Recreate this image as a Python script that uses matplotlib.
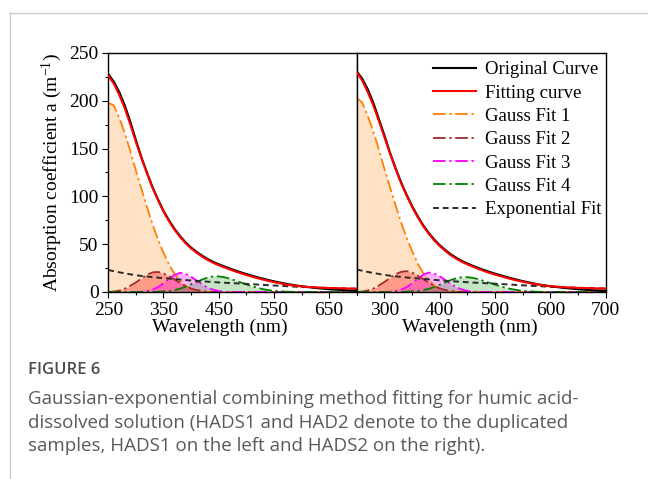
import matplotlib
matplotlib.use("Agg")
import matplotlib.pyplot as plt
from matplotlib.lines import Line2D

plt.rcParams['font.family'] = ['Liberation Serif', 'DejaVu Serif']
plt.rcParams['mathtext.default'] = 'regular'

# wavelength grid (nm)
wl = [250, 260, 270, 280, 290, 300, 310, 320, 330, 340, 350, 360, 370, 380, 390, 400,
      410, 420, 430, 440, 450, 460, 470, 480, 490, 500, 510, 520, 530, 540, 550,
      575, 600, 625, 650, 675, 700]

# HADS1 (left)
orig1 = [228, 220, 209, 195, 178, 159, 141, 125, 110, 97, 85, 75, 66, 58.5, 52, 46.5,
         42, 38, 34.5, 31.5, 29, 26.8, 24.6, 22.5, 20.6, 18.8, 17.1, 15.5, 14, 12.5, 11.2,
         8.2, 6, 4.2, 2.9, 2, 1.3]
fit1 = [226, 218, 206, 192, 175, 157, 140, 124, 109, 96, 84, 74, 65, 57.5, 51, 45.5,
        41, 37, 33.5, 30.5, 28, 25.8, 23.6, 21.5, 19.6, 17.8, 16.1, 14.5, 13, 11.6, 10.3,
        7.5, 5.8, 4.8, 4.2, 3.8, 3.5]
g1_1 = [198, 195, 182, 166, 147, 127, 108, 89, 71, 55, 41, 29, 19, 12, 6.5, 3.2,
        1.5, 0.5, 0.1] + [0] * 18
g2_1 = [0, 0.5, 1.5, 3.5, 6.5, 10, 14, 18, 20.5, 21, 19.5, 16.5, 13, 9.5, 6, 3.5,
        2, 1, 0.3, 0] + [0] * 17
g3_1 = [0, 0, 0, 0, 0, 0, 0.3, 1, 2.5, 5, 9, 13.5, 18, 20, 19, 16, 12, 8, 4.5, 2.5,
        1, 0.3] + [0] * 15
g4_1 = [0] * 9 + [0.3, 0.6, 1, 2, 3.5, 5.5, 8, 10.5, 13, 15, 16.3, 16.3, 15.5, 14, 12,
                  10, 8, 6, 4.5, 3, 2, 1.2] + [0.3, 0, 0, 0, 0, 0]
exp_1 = [23, 21.8, 20.6, 19.5, 18.5, 17.5, 16.8, 16.2, 15.6, 15, 14.5, 14, 13.5, 13,
         12.5, 12, 11.6, 11.2, 10.8, 10.4, 10, 9.7, 9.4, 9.1, 8.8, 8.5, 8.2, 7.8, 7.5,
         7.1, 6.8, 6, 5.3, 4.7, 4.2, 3.8, 3.4]

# HADS2 (right)
orig2 = [231, 223, 212, 198, 181, 164, 146, 130, 115, 102, 90, 79.5, 70, 62, 55, 49,
         44, 39.5, 35.8, 32.5, 29.8, 27.4, 25.1, 23, 21, 19.2, 17.5, 15.9, 14.3, 12.8,
         11.4, 8.3, 6, 4.2, 2.9, 1.9, 1.2]
fit2 = [230, 221, 209, 195, 179, 162, 145, 129, 114, 101, 89, 78.5, 69, 61, 54, 48,
        43, 38.5, 34.8, 31.5, 28.8, 26.4, 24.1, 22, 20, 18.2, 16.5, 14.9, 13.4, 12, 10.7,
        7.8, 6, 5, 4.3, 3.9, 3.6]
g1_2 = [203, 198, 184, 168, 149, 129, 110, 91, 73, 57, 43, 30, 20, 12.5, 7, 3.5,
        1.6, 0.6, 0.1] + [0] * 18
g2_2 = [0, 0.5, 1.6, 3.6, 6.8, 10.5, 14.5, 18.5, 21, 21.8, 20.3, 17.2, 13.5, 9.8,
        6.3, 3.7, 2.1, 1, 0.3, 0] + [0] * 17
g3_2 = [0, 0, 0, 0, 0, 0, 0.3, 1, 2.5, 5, 9, 13.5, 18, 20.3, 19.5, 16.5, 12.5, 8.5,
        5, 2.7, 1.1, 0.4] + [0] * 15
g4_2 = [0] * 9 + [0.3, 0.6, 1, 2, 3.3, 5.2, 7.6, 10, 12.5, 14.4, 15.5, 15.5, 14.8,
                  13.3, 11.5, 9.6, 7.7, 5.8, 4.3, 3, 2, 1.2] + [0.3, 0, 0, 0, 0, 0]
exp_2 = [23.5, 22.2, 21, 19.9, 18.9, 17.9, 17.1, 16.4, 15.8, 15.2, 14.7, 14.2, 13.7,
         13.2, 12.7, 12.2, 11.8, 11.4, 11, 10.6, 10.2, 9.9, 9.6, 9.3, 9, 8.7, 8.4, 8,
         7.7, 7.3, 7, 6.2, 5.5, 4.9, 4.4, 4, 3.6]

dashdot = (0, (7, 2, 1.3, 2))


def draw(ax, orig, fit, g1, g2, g3, g4, ex):
    ax.fill_between(wl, g1, color='#ff8c1a', alpha=0.25, lw=0)
    ax.fill_between(wl, g2, color='#ff1a1a', alpha=0.35, lw=0)
    ax.fill_between(wl, g3, color='#ff00ff', alpha=0.3, lw=0)
    ax.fill_between(wl, g4, color='#1a9a1a', alpha=0.25, lw=0)
    hs = []
    hs += ax.plot(wl, orig, color='black', lw=1.5, label='Original Curve')
    hs += ax.plot(wl, fit, color='#ff0000', lw=1.5, label='Fitting curve')
    hs += ax.plot(wl, g1, color='#ff8000', lw=1.3, ls=dashdot, label='Gauss Fit 1')
    hs += ax.plot(wl, g2, color='#a52a2a', lw=1.3, ls=dashdot, label='Gauss Fit 2')
    hs += ax.plot(wl, g3, color='#ff00ff', lw=1.3, ls=dashdot, label='Gauss Fit 3')
    hs += ax.plot(wl, g4, color='#008000', lw=1.3, ls=dashdot, label='Gauss Fit 4')
    hs += ax.plot(wl, ex, color='#2b2b2b', lw=1.4, ls=(0, (3, 2)), label='Exponential Fit')
    # keep the measured curves on top
    hs[0].set_zorder(5)
    hs[1].set_zorder(6)
    ax.set_xlim(250, 700)
    ax.set_ylim(0, 250)
    ax.tick_params(which='both', direction='out', labelsize=14, pad=2.5, width=0.8)
    ax.tick_params(which='major', length=4.5)
    ax.tick_params(which='minor', length=2.5)
    for s in ax.spines.values():
        s.set_linewidth(1.0)
    return hs


fig = plt.figure(figsize=(6.48, 4.79), dpi=100)
axL = fig.add_axes([0.1671, 0.3904, 0.3834, 0.4990])
axR = fig.add_axes([0.5505, 0.3904, 0.3842, 0.4990])

draw(axL, orig1, fit1, g1_1, g2_1, g3_1, g4_1, exp_1)
hs = draw(axR, orig2, fit2, g1_2, g2_2, g3_2, g4_2, exp_2)

axL.set_xticks([250, 350, 450, 550, 650])
axL.set_xticks([300, 400, 500, 600, 700], minor=True)
axL.set_yticks([0, 50, 100, 150, 200, 250])
axL.set_yticks([25, 75, 125, 175, 225], minor=True)
axR.set_xticks([300, 400, 500, 600, 700])
axR.set_xticks([250, 350, 450, 550, 650], minor=True)
axR.set_yticks([])
axR.set_yticks([], minor=True)

axL.set_ylabel('Absorption coefficient a (m$^{-1}$)', fontsize=14, labelpad=4)
axL.set_xlabel('Wavelength (nm)', fontsize=14)
axR.set_xlabel('Wavelength (nm)', fontsize=14)
axL.xaxis.set_label_coords(0.45, -0.11)
axR.xaxis.set_label_coords(0.455, -0.11)

axR.legend(handles=hs, loc='upper right', bbox_to_anchor=(1.02, 1.005), frameon=False,
           fontsize=13.5, handlelength=2.3, handletextpad=0.45, labelspacing=0.33,
           borderaxespad=0.1)

# card border
fig.add_artist(Line2D([10 / 648, 1], [1 - 13 / 479] * 2, transform=fig.transFigure,
                      color='#cccccc', lw=1))
fig.add_artist(Line2D([10 / 648] * 2, [0, 1 - 13 / 479], transform=fig.transFigure,
                      color='#cccccc', lw=1))

cap = ['Gaussian-exponential combining method fitting for humic acid-',
       'dissolved solution (HADS1 and HAD2 denote to the duplicated',
       'samples, HADS1 on the left and HADS2 on the right).']
fig.text(28 / 648, 1 - 370 / 479, 'FIGURE 6', family=['Open Sans', 'DejaVu Sans'],
         fontweight='semibold', fontsize=12, color='#4d4d4d', va='center')
for i, line in enumerate(cap):
    fig.text(28 / 648, 1 - (399 + 23.5 * i) / 479, line, family=['Open Sans', 'DejaVu Sans'],
             fontsize=13.5, color='#5a5a5a', va='center')

fig.savefig('out.png', dpi=100)
